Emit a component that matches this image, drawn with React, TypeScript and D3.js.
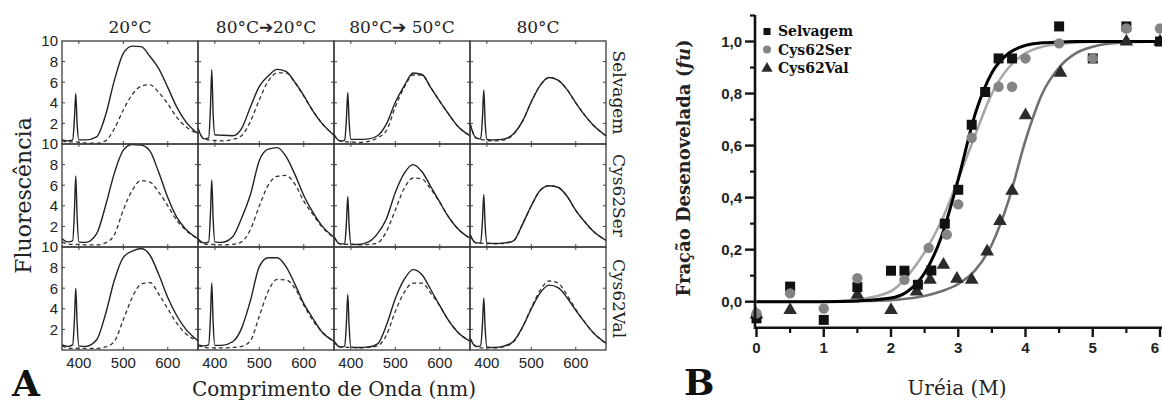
import React from 'react'
import * as d3 from 'd3'

// ---- panel A: fluorescence spectra ----
const wavelengths = [362, 375, 386, 390, 393, 396, 400, 415, 440, 460, 480, 500, 520, 540, 560, 580, 600, 620, 640, 668]
const conditions = ['20°C', '80°C➔20°C', '80°C➔ 50°C', '80°C']
const proteins = ['Selvagem', 'Cys62Ser', 'Cys62Val']
const nmTicks = [400, 500, 600]
const fluoTicks = [2, 4, 6, 8, 10]

// one array per condition column (20°C, 80→20, 80→50, 80)
const selvagemSolid = [
  [0.4, 0.3, 0.4, 2.5, 4.9, 2.0, 0.4, 0.4, 0.7, 2.8, 6.2, 8.8, 9.5, 9.45, 8.5, 7.3, 5.5, 3.6, 2.2, 1.0],
  [1.5, 0.5, 0.6, 3.5, 7.2, 3.0, 0.9, 0.85, 0.8, 1.5, 3.6, 5.6, 6.6, 7.25, 7.05, 6.0, 4.7, 3.25, 2.05, 0.85],
  [0.9, 0.3, 0.35, 2.5, 5.0, 2.2, 0.45, 0.45, 0.5, 0.8, 1.95, 4.05, 5.65, 6.9, 6.75, 5.45, 4.15, 2.9, 1.75, 0.8],
  [2.0, 0.6, 0.5, 2.5, 5.25, 2.2, 0.45, 0.4, 0.5, 1.0, 2.2, 4.1, 5.7, 6.45, 6.2, 5.3, 4.0, 2.8, 1.8, 0.8],
]
const selvagemDashed = [
  [0.3, 0.2, 0.2, 0.2, 0.2, 0.2, 0.15, 0.1, 0.07, 0.3, 1.5, 3.3, 4.8, 5.6, 5.75, 5.0, 3.9, 2.6, 1.7, 1.0],
  [1.5, 0.5, 0.4, 0.35, 0.35, 0.35, 0.35, 0.3, 0.45, 0.8, 2.2, 4.3, 6.1, 6.9, 6.9, 5.95, 4.65, 3.25, 2.05, 0.85],
  [0.9, 0.3, 0.25, 0.2, 0.2, 0.2, 0.2, 0.15, 0.25, 0.6, 1.3, 3.6, 5.5, 6.7, 6.7, 5.45, 4.15, 2.9, 1.75, 0.8],
  [2.0, 0.6, 0.45, 0.4, 0.4, 0.4, 0.35, 0.3, 0.4, 0.95, 2.2, 4.1, 5.7, 6.45, 6.2, 5.3, 4.0, 2.8, 1.8, 0.8],
]
const cys62SerSolid = [
  [0.8, 0.5, 0.6, 3.5, 6.9, 3.0, 0.5, 0.45, 1.3, 4.0, 7.2, 9.4, 9.95, 9.9, 9.3, 7.2, 4.8, 2.9, 1.75, 0.8],
  [0.8, 0.4, 0.5, 3.2, 6.5, 2.8, 0.5, 0.45, 1.0, 2.8, 5.1, 8.4, 9.5, 9.65, 8.8, 7.05, 5.0, 3.4, 2.1, 0.95],
  [1.0, 0.3, 0.3, 2.4, 4.9, 2.1, 0.3, 0.25, 0.5, 1.3, 2.75, 5.3, 7.15, 8.0, 7.3, 5.85, 4.35, 2.9, 1.8, 0.85],
  [1.2, 0.4, 0.4, 2.5, 5.1, 2.2, 0.4, 0.35, 0.4, 0.6, 2.2, 4.0, 5.5, 5.95, 5.8, 4.95, 3.55, 2.45, 1.5, 0.65],
]
const cys62SerDashed = [
  [0.5, 0.3, 0.25, 0.25, 0.25, 0.25, 0.25, 0.2, 0.2, 0.4, 1.2, 3.6, 5.5, 6.45, 6.3, 5.3, 4.0, 2.6, 1.65, 0.8],
  [0.6, 0.3, 0.25, 0.25, 0.25, 0.25, 0.25, 0.2, 0.25, 0.5, 1.7, 4.0, 6.0, 6.85, 6.95, 6.1, 4.45, 3.2, 2.0, 0.9],
  [1.0, 0.3, 0.25, 0.25, 0.25, 0.25, 0.25, 0.2, 0.25, 0.4, 1.5, 3.6, 5.7, 6.7, 6.6, 5.6, 4.35, 2.9, 1.8, 0.85],
  [1.2, 0.4, 0.35, 0.35, 0.35, 0.35, 0.35, 0.3, 0.35, 0.6, 2.2, 4.0, 5.5, 5.95, 5.8, 4.95, 3.55, 2.45, 1.5, 0.65],
]
const cys62ValSolid = [
  [0.5, 0.35, 0.5, 3.0, 6.0, 2.6, 0.4, 0.35, 1.0, 3.5, 6.8, 9.0, 9.6, 9.85, 9.2, 7.3, 5.1, 3.35, 2.05, 0.9],
  [0.5, 0.4, 0.5, 3.2, 6.5, 2.7, 0.45, 0.45, 0.8, 2.1, 4.8, 8.1, 8.95, 8.95, 8.1, 6.4, 4.5, 3.1, 1.8, 0.85],
  [0.85, 0.3, 0.35, 2.7, 5.4, 2.3, 0.3, 0.25, 0.3, 0.6, 2.4, 5.0, 6.85, 7.8, 7.3, 5.85, 4.3, 2.85, 1.75, 0.85],
  [1.15, 0.35, 0.4, 2.5, 5.05, 2.2, 0.3, 0.25, 0.4, 0.85, 2.2, 4.0, 5.55, 6.3, 6.05, 5.1, 3.85, 2.7, 1.65, 0.65],
]
const cys62ValDashed = [
  [0.4, 0.2, 0.15, 0.15, 0.15, 0.15, 0.15, 0.15, 0.15, 0.3, 0.85, 2.95, 5.1, 6.4, 6.55, 5.4, 4.0, 2.6, 1.6, 0.9],
  [0.4, 0.3, 0.2, 0.2, 0.2, 0.2, 0.2, 0.2, 0.25, 0.35, 0.9, 3.3, 5.7, 6.85, 6.8, 6.0, 4.35, 2.9, 1.8, 0.85],
  [0.85, 0.3, 0.25, 0.25, 0.25, 0.25, 0.25, 0.2, 0.25, 0.4, 1.45, 3.75, 5.6, 6.5, 6.5, 5.5, 4.3, 2.85, 1.75, 0.85],
  [1.15, 0.35, 0.2, 0.2, 0.2, 0.2, 0.2, 0.2, 0.35, 0.8, 2.2, 4.1, 5.8, 6.7, 6.5, 5.35, 3.95, 2.7, 1.65, 0.65],
]

// ---- panel B: unfolded fraction vs urea ----
const ureaTicks = [0, 1, 2, 3, 4, 5, 6]
const ureaMinor = [0.5, 1.5, 2.5, 3.5, 4.5, 5.5]
const fuTicks = [0, 0.2, 0.4, 0.6, 0.8, 1.0]
const fuMinor = [0.1, 0.3, 0.5, 0.7, 0.9, 1.1]
const fitUrea = [0, 1, 1.5, 2, 2.25, 2.5, 2.75, 3, 3.25, 3.5, 3.75, 4, 4.25, 4.5, 4.75, 5, 5.5, 6]
const selvagemFit = [0, 0, 0.003, 0.014, 0.04, 0.11, 0.25, 0.47, 0.72, 0.88, 0.955, 0.985, 0.995, 0.998, 1, 1, 1, 1]
const cys62SerFit = [0, 0, 0.008, 0.04, 0.1, 0.19, 0.31, 0.47, 0.64, 0.8, 0.9, 0.955, 0.98, 0.99, 0.996, 0.999, 1, 1]
const cys62ValFit = [0, 0, 0.002, 0.006, 0.012, 0.022, 0.04, 0.068, 0.12, 0.22, 0.39, 0.62, 0.8, 0.9, 0.955, 0.98, 0.997, 1]

const selvagemUrea = [0, 0.5, 1, 1.5, 2, 2.2, 2.4, 2.6, 2.8, 3.0, 3.2, 3.4, 3.6, 3.8, 4.5, 5.0, 5.5, 6]
const selvagemFu = [-0.064, 0.058, -0.07, 0.056, 0.119, 0.119, 0.065, 0.12, 0.3, 0.43, 0.68, 0.806, 0.935, 0.935, 1.058, 0.935, 1.058, 1.0]
const cys62SerUrea = [0, 0.5, 1, 1.5, 2.2, 2.56, 2.83, 3.0, 3.2, 3.6, 3.8, 4.0, 4.5, 5.0, 5.5, 6]
const cys62SerFu = [-0.045, 0.032, -0.026, 0.09, 0.084, 0.207, 0.258, 0.374, 0.63, 0.826, 0.826, 0.935, 0.993, 0.935, 1.05, 1.05]
const cys62ValUrea = [0, 0.5, 1.5, 2, 2.38, 2.58, 2.78, 2.98, 3.2, 3.43, 3.62, 3.8, 4.0, 4.52, 5.5, 6]
const cys62ValFu = [-0.05, -0.032, 0.026, -0.032, 0.039, 0.084, 0.142, 0.088, 0.084, 0.193, 0.31, 0.426, 0.716, 0.88, 1.0, 1.0]

const serif = '"DejaVu Serif", serif'
const sans = '"Liberation Sans", Arial, sans-serif'
const fmtComma = d3.formatLocale({ decimal: ',', thousands: '.', grouping: [3], currency: ['', ''] }).format('.1f')

export default function App() {
  // panel A geometry
  const aLeft = 62, aTop = 41, colW = 136, rowH = 103
  const x = d3.scaleLinear().domain([362, 668]).range([0, colW])
  const y = d3.scaleLinear().domain([0, 10]).range([rowH, 0])
  const spec = d3.line<number>().x((_, i) => x(wavelengths[i])).y(d => y(d)).curve(d3.curveMonotoneX)
  const rows = [
    [selvagemSolid, selvagemDashed],
    [cys62SerSolid, cys62SerDashed],
    [cys62ValSolid, cys62ValDashed],
  ]

  // panel B geometry
  const xb = d3.scaleLinear().domain([0, 6]).range([756.5, 1160])
  const yb = d3.scaleLinear().domain([-0.1, 1.1]).range([327.7, 15.5])
  const fit = (vals: number[]) => d3.line<number>().x((_, i) => xb(fitUrea[i])).y(d => yb(d)).curve(d3.curveMonotoneX)(vals)
  const sq = d3.symbol().type(d3.symbolSquare).size(100)()
  const ci = d3.symbol().type(d3.symbolCircle).size(85)()
  const tri = d3.symbol().type(d3.symbolTriangle).size(80)()
  const sqS = d3.symbol().type(d3.symbolSquare).size(50)()
  const ciS = d3.symbol().type(d3.symbolCircle).size(50)()
  const triS = d3.symbol().type(d3.symbolTriangle).size(55)()

  return (
    <svg width={1162} height={403} style={{ position: 'absolute', left: 0, top: 0, background: '#fff' }}>
      {/* column titles */}
      {conditions.map((c, i) => (
        <text key={c} x={aLeft + colW * i + colW / 2} y={33} textAnchor="middle" fontFamily={serif} fontSize={17} fill="#222">{c}</text>
      ))}
      {rows.map((pair, r) => (
        <g key={r}>
          {pair[0].map((_, c) => (
            <g key={c} transform={`translate(${aLeft + c * colW},${aTop + r * rowH})`}>
              <path d={spec(pair[1][c]) || ''} fill="none" stroke="#333" strokeWidth={1.3} strokeDasharray="4,3" />
              <path d={spec(pair[0][c]) || ''} fill="none" stroke="#222" strokeWidth={1.4} />
              {nmTicks.map(t => (
                <g key={t}>
                  <line x1={x(t)} x2={x(t)} y1={0} y2={3} stroke="#444" />
                  <line x1={x(t)} x2={x(t)} y1={rowH} y2={rowH - 3} stroke="#444" />
                </g>
              ))}
              {fluoTicks.slice(0, 4).map(t => (
                <g key={t}>
                  <line x1={0} x2={3} y1={y(t)} y2={y(t)} stroke="#444" />
                  <line x1={colW} x2={colW - 3} y1={y(t)} y2={y(t)} stroke="#444" />
                </g>
              ))}
              <rect x={0} y={0} width={colW} height={rowH} fill="none" stroke="#3a3a3a" strokeWidth={1.3} />
            </g>
          ))}
          {fluoTicks.map(t => (
            <text key={t} x={aLeft - 4} y={aTop + r * rowH + y(t)} dy="0.36em" textAnchor="end" fontFamily={sans} fontSize={15} fill="#222">{t}</text>
          ))}
          <text transform={`translate(${aLeft + 4 * colW + 7},${aTop + r * rowH + rowH / 2}) rotate(90)`} textAnchor="middle" fontFamily={serif} fontSize={17} fill="#222">{proteins[r]}</text>
        </g>
      ))}
      {conditions.map((c, i) => nmTicks.map(t => (
        <text key={c + t} x={aLeft + i * colW + x(t)} y={368} textAnchor="middle" fontFamily={sans} fontSize={15} fill="#222">{t}</text>
      )))}
      <text transform={`translate(31,${aTop + 1.5 * rowH}) rotate(-90)`} textAnchor="middle" fontFamily={serif} fontSize={22} fill="#222">Fluorescência</text>
      <text x={aLeft + 2 * colW} y={396} textAnchor="middle" fontFamily={serif} fontSize={20} fill="#222">Comprimento de Onda (nm)</text>
      <text x={12} y={396} fontFamily={serif} fontSize={36} fontWeight="bold" fill="#111">A</text>

      {/* panel B */}
      <path d={fit(cys62ValFit) || ''} fill="none" stroke="#707070" strokeWidth={2.6} />
      <path d={fit(cys62SerFit) || ''} fill="none" stroke="#a8a8a8" strokeWidth={2.6} />
      <path d={fit(selvagemFit) || ''} fill="none" stroke="#000" strokeWidth={3} />
      {cys62ValUrea.map((u, i) => (
        <path key={'t' + i} d={tri || ''} transform={`translate(${xb(u)},${yb(cys62ValFu[i])})`} fill="#2b2b2b" />
      ))}
      {selvagemUrea.map((u, i) => (
        <path key={'s' + i} d={sq || ''} transform={`translate(${xb(u)},${yb(selvagemFu[i])})`} fill="#111" />
      ))}
      {cys62SerUrea.map((u, i) => (
        <path key={'c' + i} d={ci || ''} transform={`translate(${xb(u)},${yb(cys62SerFu[i])})`} fill="#848484" />
      ))}
      <line x1={755} x2={755} y1={15} y2={329} stroke="#111" strokeWidth={2.6} />
      <line x1={754} x2={1162} y1={327.7} y2={327.7} stroke="#111" strokeWidth={2.6} />
      {fuTicks.map(t => (
        <g key={t}>
          <line x1={745} x2={755} y1={yb(t)} y2={yb(t)} stroke="#111" strokeWidth={2.4} />
          <text x={742} y={yb(t)} dy="0.36em" textAnchor="end" fontFamily={sans} fontWeight="bold" fontSize={15} fill="#222">{fmtComma(t)}</text>
        </g>
      ))}
      {fuMinor.map(t => (
        <line key={t} x1={750} x2={755} y1={yb(t)} y2={yb(t)} stroke="#111" strokeWidth={2.2} />
      ))}
      {ureaTicks.map(t => (
        <g key={t}>
          <line x1={xb(t)} x2={xb(t)} y1={327.7} y2={337} stroke="#111" strokeWidth={2.4} />
          <text x={Math.min(xb(t), 1155)} y={353} textAnchor="middle" fontFamily={sans} fontWeight="bold" fontSize={15} fill="#222">{t}</text>
        </g>
      ))}
      {ureaMinor.map(t => (
        <line key={t} x1={xb(t)} x2={xb(t)} y1={327.7} y2={333} stroke="#111" strokeWidth={2.2} />
      ))}
      {/* legend */}
      <path d={sqS || ''} transform="translate(767,31.5)" fill="#111" />
      <path d={ciS || ''} transform="translate(767,49.5)" fill="#848484" />
      <path d={triS || ''} transform="translate(767,68.5)" fill="#2b2b2b" />
      {proteins.map((p, i) => (
        <text key={p} x={778} y={36 + i * 18.5} fontFamily={serif} fontWeight="bold" fontSize={14} fill="#111">{p}</text>
      ))}
      <text transform="translate(690,168) rotate(-90)" textAnchor="middle" fontFamily={serif} fontWeight="bold" fontSize={18} fill="#222">
        Fração Desenovelada (<tspan fontStyle="italic">fu</tspan>)
      </text>
      <text x={957} y={395} textAnchor="middle" fontFamily={serif} fontSize={20} fill="#222">Uréia (M)</text>
      <text x={684} y={395} fontFamily={serif} fontSize={36} fontWeight="bold" fill="#111">B</text>
    </svg>
  )
}
